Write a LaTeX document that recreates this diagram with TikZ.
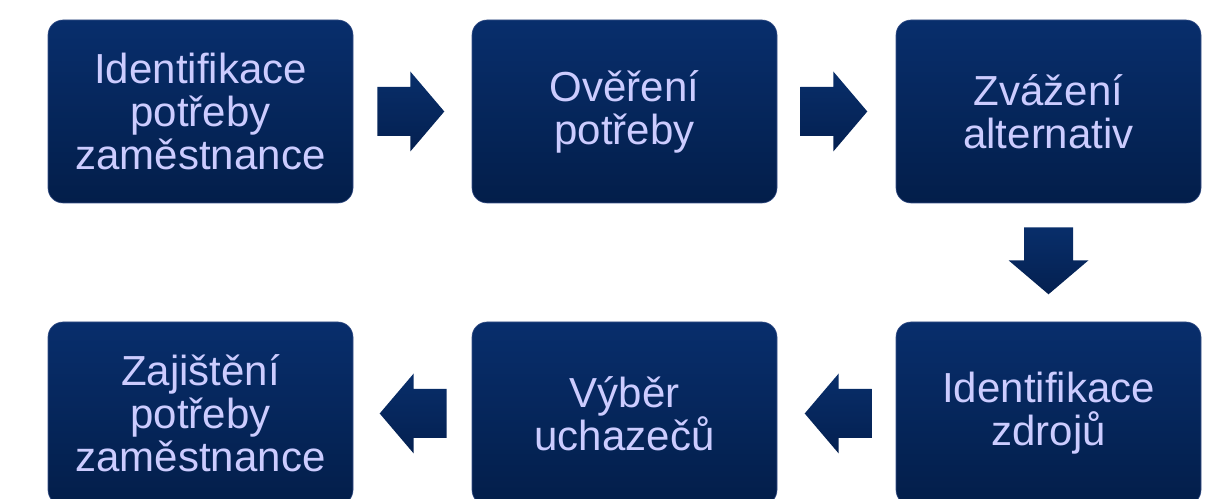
\documentclass[tikz,border=0pt]{standalone}
\usepackage{fontspec}
\setmainfont{Liberation Sans}
\usetikzlibrary{calc}
\definecolor{boxtop}{RGB}{8,46,108}
\definecolor{boxbot}{RGB}{3,30,74}
\definecolor{boxedge}{RGB}{55,80,135}
\definecolor{txt}{RGB}{204,204,255}
\definecolor{arrtop}{RGB}{8,46,106}
\definecolor{arrbot}{RGB}{4,32,80}
\tikzset{
  stepbox/.style={rectangle, rounded corners=15pt, minimum width=305pt, minimum height=183pt,
    inner sep=0pt, top color=boxtop, bottom color=boxbot, draw=boxedge, line width=0.6pt,
    text=txt, align=center, font=\fontsize{42}{43}\selectfont},
  blockarrow/.style={top color=arrtop, bottom color=arrbot, draw=none}
}
\newcommand{\blockarr}[3]{% #1 start, #2 rotation
  \path[blockarrow, shift={#1}, rotate=#2]
    (0,-24.5) -- (33,-24.5) -- (33,-40) -- (67,0) -- (33,40) -- (33,24.5) -- (0,24.5) -- cycle;}
\begin{document}
\begin{tikzpicture}[x=1pt,y=1pt]
\useasboundingbox (0,0) rectangle (1218,498);
\clip (0,0) rectangle (1218,498);
\node[stepbox] (b1) at (200.5,386.5) {Identifikace\\potřeby\\zaměstnance};
\node[stepbox] (b2) at (624.5,386.5) {Ověření\\potřeby};
\node[stepbox] (b3) at (1048.5,386.5) {Zvážení\\alternativ};
\node[stepbox] (b4) at (1048.5,84.5) {Identifikace\\zdrojů};
\node[stepbox] (b5) at (624.5,84.5) {Výběr\\uchazečů};
\node[stepbox] (b6) at (200.5,84.5) {Zajištění\\potřeby\\zaměstnance};
\blockarr{($(b1.east)+(24,0)$)}{0}{}
\blockarr{($(b2.east)+(23,0)$)}{0}{}
\blockarr{($(b3.south)+(0,-24)$)}{-90}{}
\blockarr{($(b4.west)+(-24,0)$)}{180}{}
\blockarr{($(b5.west)+(-25,0)$)}{180}{}
\end{tikzpicture}
\end{document}
